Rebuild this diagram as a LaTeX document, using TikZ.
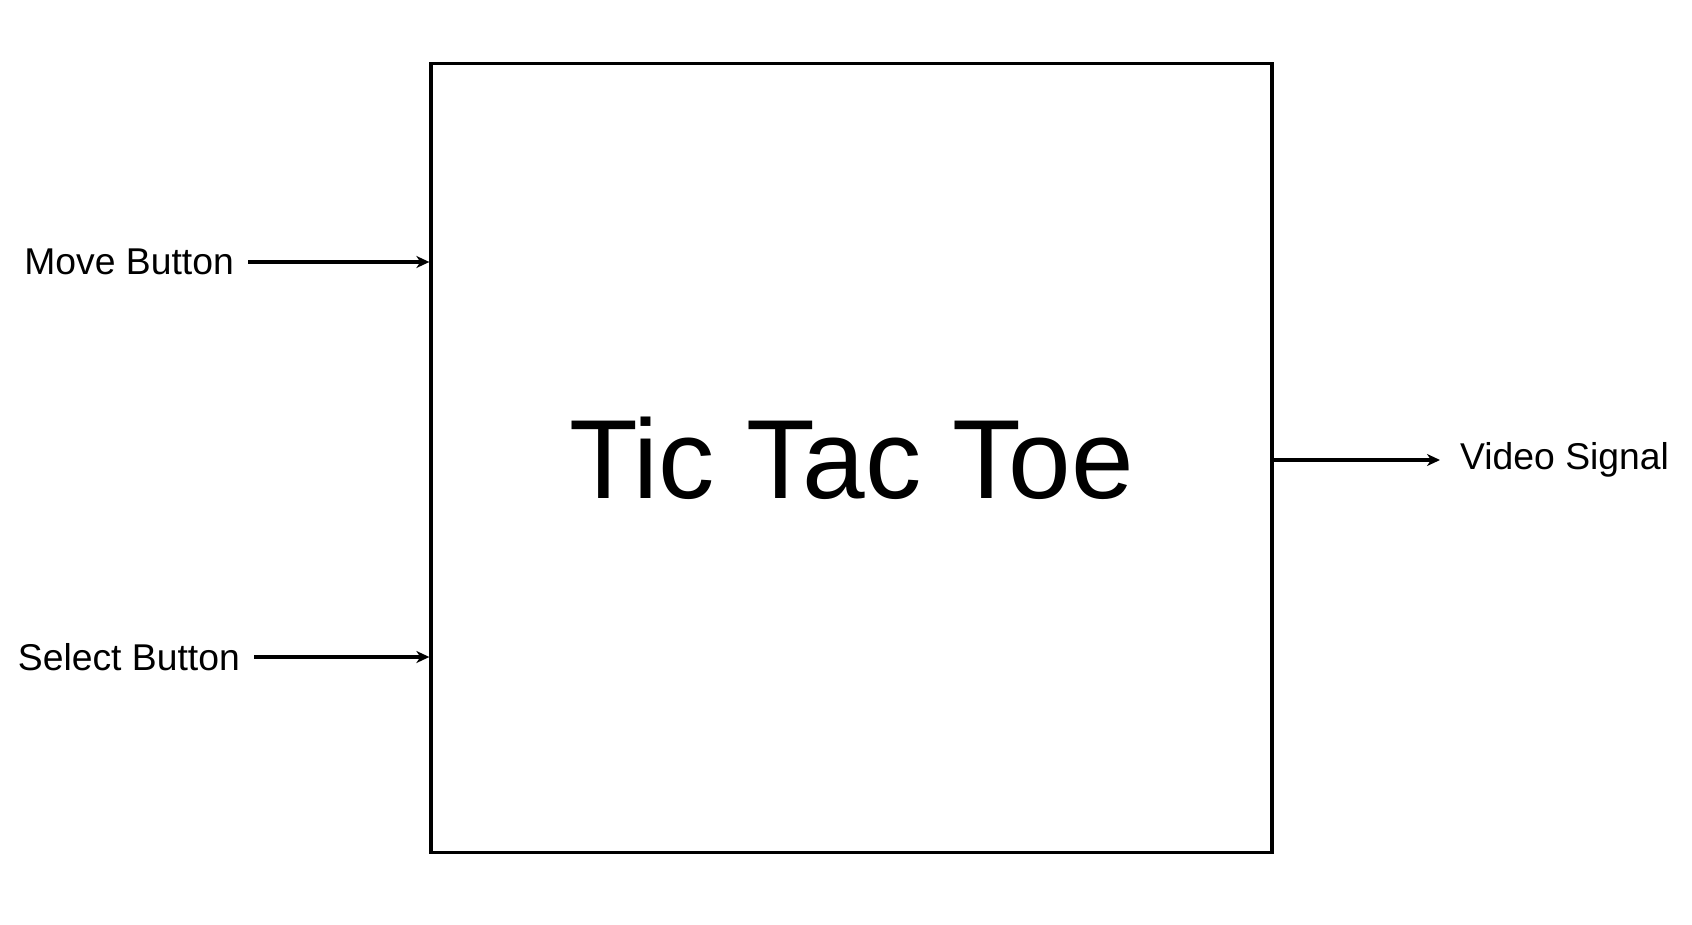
\documentclass[tikz,border=0pt]{standalone}
\usepackage{fontspec}
\setmainfont{Liberation Sans}
\usetikzlibrary{arrows.meta, positioning}

\begin{document}
\begin{tikzpicture}[
    x=1pt, y=-1pt,
    block/.style = {draw=black, line width=3.3pt, minimum width=841pt,
                    minimum height=789pt, inner sep=0pt,
                    font=\fontsize{112.5}{120}\selectfont},
    signal/.style = {font=\fontsize{37.3}{40}\selectfont, inner xsep=14pt, inner ysep=0pt},
    arrow/.style = {-{Stealth[length=13pt, width=12pt, inset=4pt]}, line width=3.2pt}
]
  \useasboundingbox (0,0) rectangle (1692,925);
  \node[block] (game) at (851.5,458) {Tic Tac Toe};

  \node[signal, anchor=east] (move)   at (248,262) {Move Button};
  \node[signal, anchor=east] (select) at (254,657) {Select Button};
  \node[signal, anchor=west, inner xsep=20pt] (video) at (1440,460) {Video Signal};

  \draw[arrow] (move.east) -- (move.east -| game.west);
  \draw[arrow] (select.east) -- (select.east -| game.west);
  \draw[arrow] (video.west -| game.east) -- (video.west);
\end{tikzpicture}
\end{document}
